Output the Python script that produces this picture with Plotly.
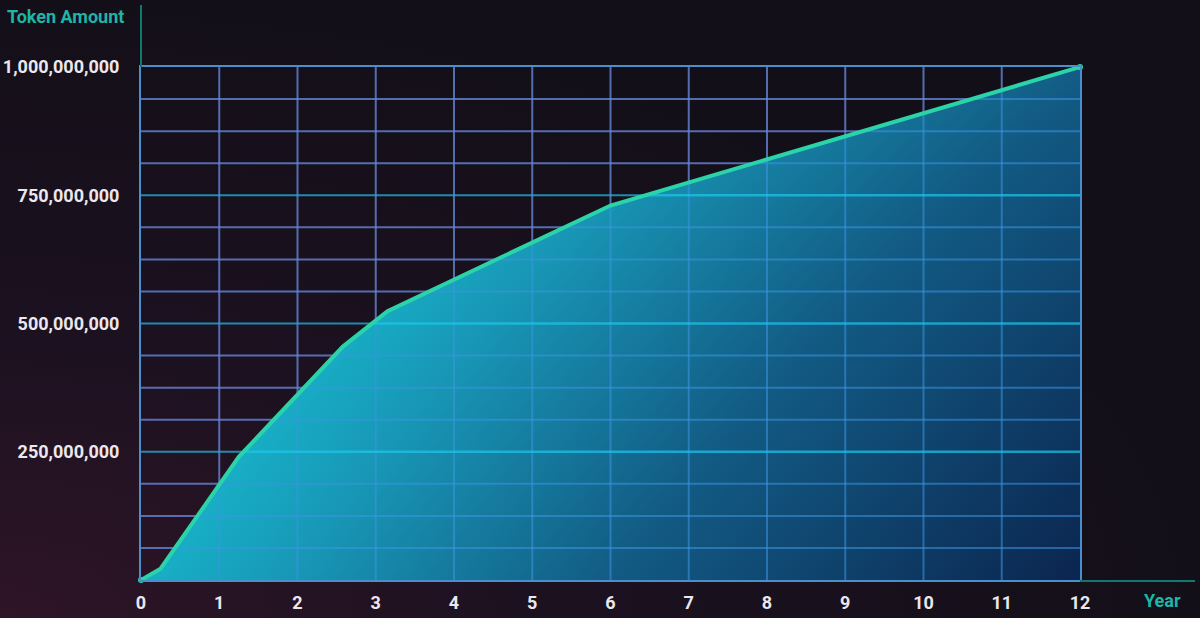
import math
import numpy as np
import plotly.graph_objects as go

# ---------------- data ----------------
years = [0, 0.25, 1.25, 2.58, 3.15, 6, 12]
tokens = [0, 22e6, 240e6, 455e6, 524e6, 730e6, 1000e6]
x_ticks = list(range(0, 13))
y_ticks = [250e6, 500e6, 750e6, 1000e6]
y_tick_text = ["250,000,000", "500,000,000", "750,000,000", "1,000,000,000"]
y_minor_grid = [62.5e6, 125e6, 187.5e6, 312.5e6, 375e6, 437.5e6,
                562.5e6, 625e6, 687.5e6, 812.5e6, 875e6, 937.5e6]
y_major_grid = [250e6, 500e6, 750e6]

# ---------------- geometry ----------------
W, H = 1200, 618
PX0, PX1 = 141, 1080      # pixel x of year 0 / 12
PY0, PY1 = 580, 67        # pixel y of 0 / 1e9
X_MAX, Y_MAX = 12, 1e9


def px2x(px):
    return (px - PX0) / (PX1 - PX0) * X_MAX


def py2y(py):
    return (PY0 - py) / (PY0 - PY1) * Y_MAX


# radial-gradient trick to get a smooth diagonal gradient in the area fill
TR, B6 = (1078, 80), (610, 578)
M = ((TR[0] + B6[0]) / 2, (TR[1] + B6[1]) / 2)
u = (B6[1] - TR[1], B6[0] - TR[0])
u = (abs(u[0]), abs(u[1]))
n = math.hypot(*u)
u = (u[0] / n, u[1] / n)
Dp = 3600
C = (M[0] + Dp * u[0], M[1] + Dp * u[1])
R = 4400.0
Lx, Rx = px2x(C[0] - R), px2x(C[0] + R)
Ty, By = py2y(C[1] - R), py2y(C[1] + R)


def off(p):
    return math.hypot(p[0] - C[0], p[1] - C[1]) / R


ref_cols = [
    ((1078, 578), "#0b2650"),
    (TR, "#125b84"),
    ((297, 575), "#1896b5"),
    ((165, 575), "#17adc4"),
]
stops = sorted([(off(p), c) for p, c in ref_cols])
cs = [[0, stops[0][1]]]
for o, c in stops:
    o = min(max(round(o, 4), cs[-1][0] + 0.001), 0.999)
    cs.append([o, c])
cs.append([1, stops[-1][1]])

fill_x = years + [Rx, Rx, Lx]
fill_y = tokens + [Ty, By, By]


# grid lines split where they cross the curve (over dark bg / over fill)
def grid_segments(yvals, with_vertical):
    dx, dy, fx, fy = [], [], [], []
    if with_vertical:
        for xv in x_ticks[1:-1]:
            yc = float(np.interp(xv, years, tokens))
            dx += [xv, xv, None]; dy += [yc, Y_MAX, None]
            fx += [xv, xv, None]; fy += [0, yc, None]
    for yv in yvals:
        xc = float(np.interp(yv, tokens, years))
        dx += [0, xc, None]; dy += [yv, yv, None]
        fx += [xc, X_MAX, None]; fy += [yv, yv, None]
    return dx, dy, fx, fy


mdx, mdy, mfx, mfy = grid_segments(y_minor_grid, True)
Mdx, Mdy, Mfx, Mfy = grid_segments(y_major_grid, False)

fig = go.Figure()

# background (full-page subplot)
fig.add_trace(go.Scatter(
    x=[-1, 1, 1, -1], y=[-1, -1, 1, 1], fill="toself", mode="none",
    fillgradient=dict(type="radial",
                      colorscale=[[0, "#2e1527"], [0.45, "#1c1120"], [1, "#130f18"]]),
    xaxis="x", yaxis="y", hoverinfo="skip", showlegend=False))

# area fill
fig.add_trace(go.Scatter(
    x=fill_x, y=fill_y, fill="toself", mode="none",
    fillgradient=dict(type="radial", colorscale=cs),
    xaxis="x2", yaxis="y2", hoverinfo="skip", showlegend=False))


def line_tr(x, y, color, width):
    return go.Scatter(x=x, y=y, mode="lines", line=dict(color=color, width=width),
                      xaxis="x2", yaxis="y2", hoverinfo="skip", showlegend=False)


fig.add_trace(line_tr(mdx, mdy, "rgba(100,132,212,0.8)", 2))
fig.add_trace(line_tr(mfx, mfy, "rgba(60,150,228,0.55)", 2))
fig.add_trace(line_tr(Mdx, Mdy, "rgba(30,168,205,0.82)", 2.2))
fig.add_trace(line_tr(Mfx, Mfy, "rgba(30,200,235,0.7)", 2.4))

# curve
fig.add_trace(go.Scatter(
    x=years, y=tokens, mode="lines",
    line=dict(color="#2bd4a8", width=4),
    xaxis="x2", yaxis="y2", showlegend=False))
fig.add_trace(go.Scatter(
    x=[years[0], years[-1]], y=[tokens[0], tokens[-1]], mode="markers",
    marker=dict(color="#2bd4a8", size=6), cliponaxis=False,
    xaxis="x2", yaxis="y2", hoverinfo="skip", showlegend=False))

tick_font = dict(family="Roboto", size=18, color="#ebe7ee", weight="bold")
teal = "#1fb5a6"

fig.update_layout(
    width=W, height=H,
    margin=dict(l=0, r=0, t=0, b=0, pad=0, autoexpand=False),
    paper_bgcolor="#130f18",
    plot_bgcolor="rgba(0,0,0,0)",
    xaxis=dict(domain=[0, 1], range=[0, 1], visible=False, fixedrange=True),
    yaxis=dict(domain=[0, 1], range=[0, 1], visible=False, fixedrange=True),
    xaxis2=dict(domain=[PX0 / W, PX1 / W], anchor="y2", range=[0, X_MAX],
                showgrid=False, zeroline=False, tickvals=x_ticks,
                tickfont=tick_font, ticks="", ticklabelstandoff=5,
                automargin=False,
                showline=True, linecolor="#4a8fcc", linewidth=2, mirror=True),
    yaxis2=dict(domain=[(H - PY0) / H, (H - PY1) / H], anchor="x2",
                range=[0, Y_MAX], showgrid=False, zeroline=False,
                tickvals=y_ticks, ticktext=y_tick_text,
                tickfont=tick_font, ticks="", ticklabelstandoff=16,
                automargin=False,
                showline=True, linecolor="#4a8fcc", linewidth=2, mirror=True),
    showlegend=False,
    shapes=[
        dict(type="line", xref="paper", yref="paper",
             x0=PX0 / W, x1=PX0 / W, y0=(H - PY1) / H, y1=(H - 5) / H,
             line=dict(color="#12786d", width=2), layer="above"),
        dict(type="line", xref="paper", yref="paper",
             x0=PX1 / W, x1=1195 / W, y0=(H - PY0 - 1) / H, y1=(H - PY0 - 1) / H,
             line=dict(color="#12786d", width=2), layer="above"),
    ],
    annotations=[
        dict(text="Token Amount", xref="paper", yref="paper",
             x=5 / W, y=(H - 17) / H, xanchor="left", yanchor="middle",
             showarrow=False, font=dict(family="Roboto", size=18, color=teal, weight="bold")),
        dict(text="Year", xref="paper", yref="paper",
             x=1142 / W, y=(H - 600) / H, xanchor="left", yanchor="middle",
             showarrow=False, font=dict(family="Roboto", size=18, color=teal, weight="bold")),
    ],
)

post = (
    "document.documentElement.style.margin='0';"
    "document.body.style.margin='0';"
    "document.body.style.overflow='hidden';"
)

fig.write_html("out.html", post_script=post,
               config={"displayModeBar": False, "responsive": False})
